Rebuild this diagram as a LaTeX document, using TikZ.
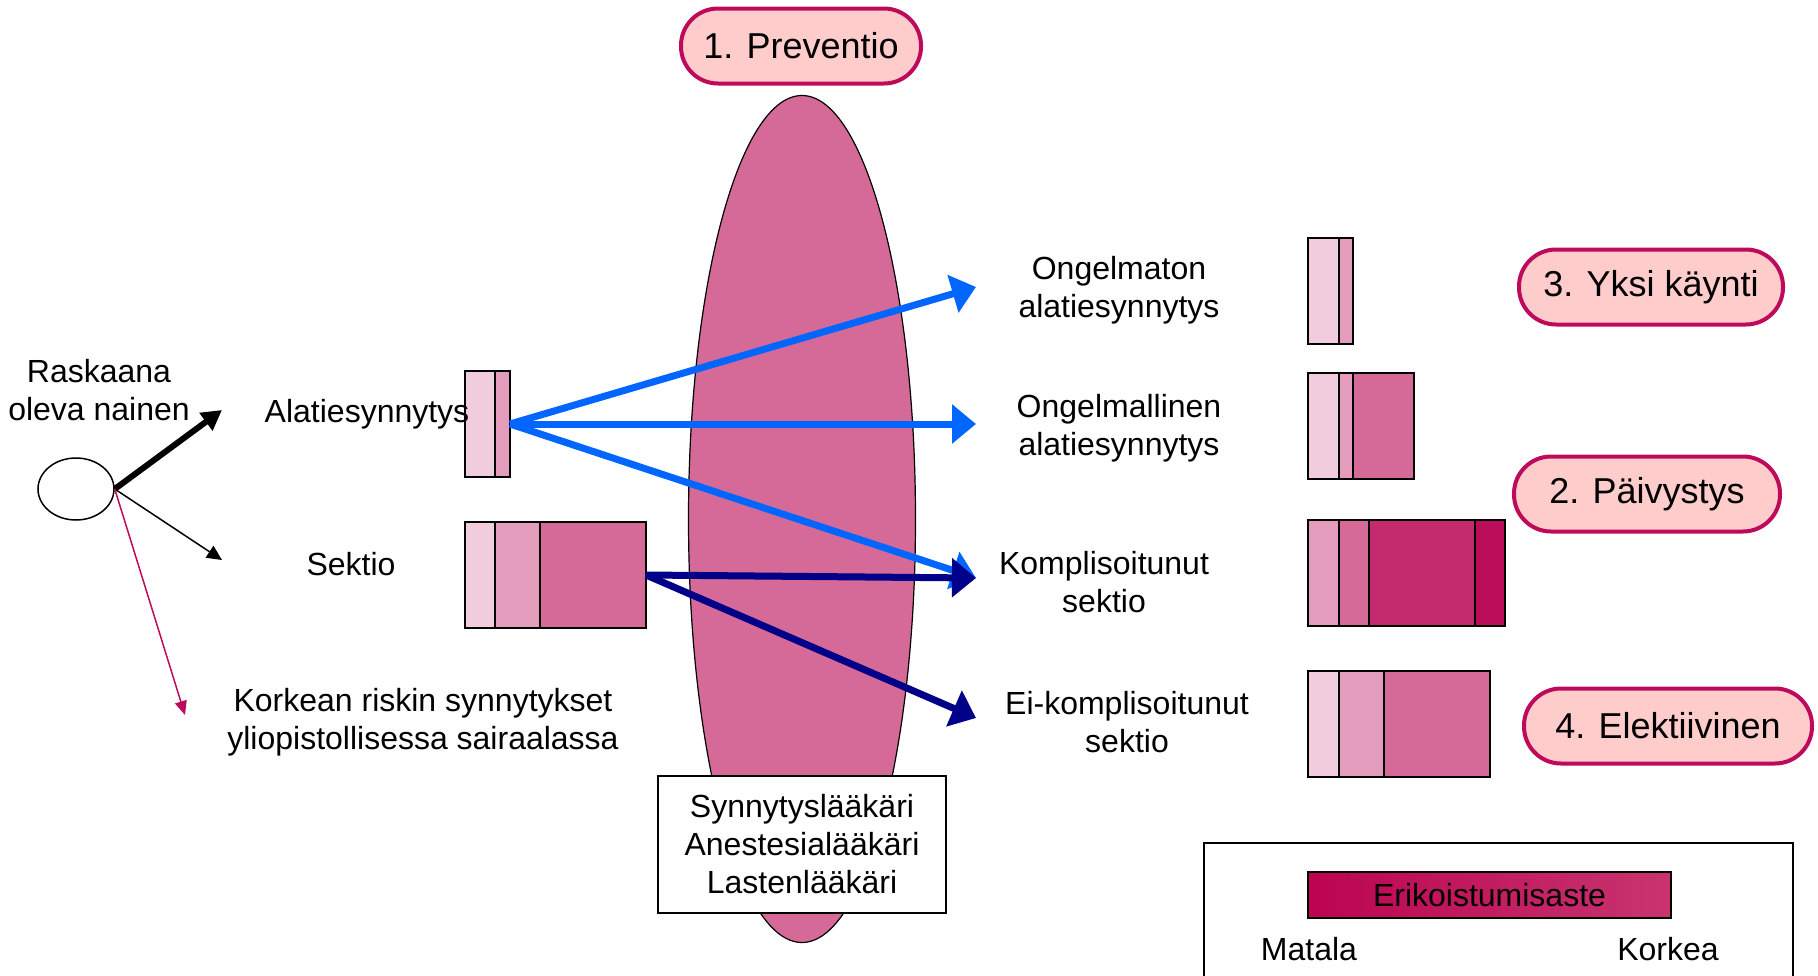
\documentclass[tikz,border=0pt]{standalone}
\usepackage{fontspec}
\setmainfont{Liberation Sans}
\usetikzlibrary{arrows.meta,positioning,shapes.geometric}

\definecolor{lvA}{HTML}{F0CCDC}
\definecolor{lvB}{HTML}{E39CBC}
\definecolor{lvC}{HTML}{D56A98}
\definecolor{lvD}{HTML}{C42B6E}
\definecolor{lvE}{HTML}{BC0D5A}
\definecolor{pillfill}{HTML}{FFCCCC}
\definecolor{pillline}{HTML}{BE0A5A}
\definecolor{arrblue}{HTML}{0066FF}
\definecolor{arrnavy}{HTML}{000088}
\definecolor{legA}{HTML}{BC0450}
\definecolor{legB}{HTML}{C83470}

\begin{document}
\begin{tikzpicture}[x=1pt, y=-1pt,
  seg/.style={draw, line width=1.5pt, inner sep=0pt, outer sep=0pt, minimum height=106pt},
  pill/.style={draw=pillline, fill=pillfill, line width=4pt, rounded corners=37pt,
    minimum height=75pt, font=\fontsize{36}{43}\selectfont},
  txt/.style={align=center, font=\fontsize{32}{38}\selectfont},
  fat/.style={line width=7pt, -{Triangle[length=24pt, width=38pt]}},
  >=Stealth
]
  \useasboundingbox (0,0) rectangle (1818,975);
  \clip (0,0) rectangle (1818,975);

  % the lens in the middle
  \node[ellipse, draw, fill=lvC, line width=1.2pt, minimum width=227pt, minimum height=847pt] (lens) at (802,519) {};

  % the woman and her three ways
  \node[ellipse, draw, line width=1.5pt, minimum width=76pt, minimum height=62pt] (woman) at (76,489) {};
  \coordinate (toAlat) at (222,410);
  \coordinate (toSekt) at (222,560);
  \coordinate (toRisk) at (185,715);
  \draw[line width=6pt, -{Triangle[length=20pt, width=21pt]}] (woman.east) -- (toAlat);
  \draw[line width=1.5pt, -{Triangle[length=15pt, width=14pt]}] (woman.east) -- (toSekt);
  \draw[line width=1.5pt, pillline, -{Triangle[length=14pt, width=12pt]}] (woman.east) -- (toRisk);

  % left bars
  \node[seg, fill=lvA, minimum width=30pt, anchor=north west] (al1) at (465,371) {};
  \node[seg, fill=lvB, minimum width=15pt, right=0pt of al1] (al2) {};
  \node[seg, fill=lvA, minimum width=30pt, anchor=north west] (se1) at (465,522) {};
  \node[seg, fill=lvB, minimum width=45pt, right=0pt of se1] (se2) {};
  \node[seg, fill=lvC, minimum width=106pt, right=0pt of se2] (se3) {};

  % right bars
  \node[seg, fill=lvA, minimum width=31pt, anchor=north west] (r1a) at (1308,238) {};
  \node[seg, fill=lvB, minimum width=14pt, right=0pt of r1a] (r1b) {};
  \node[seg, fill=lvA, minimum width=31pt, anchor=north west] (r2a) at (1308,373) {};
  \node[seg, fill=lvB, minimum width=14pt, right=0pt of r2a] (r2b) {};
  \node[seg, fill=lvC, minimum width=61pt, right=0pt of r2b] (r2c) {};
  \node[seg, fill=lvB, minimum width=31pt, anchor=north west] (r3a) at (1308,520) {};
  \node[seg, fill=lvC, minimum width=30pt, right=0pt of r3a] (r3b) {};
  \node[seg, fill=lvD, minimum width=106pt, right=0pt of r3b] (r3c) {};
  \node[seg, fill=lvE, minimum width=30pt, right=0pt of r3c] (r3d) {};
  \node[seg, fill=lvA, minimum width=31pt, anchor=north west] (r4a) at (1308,671) {};
  \node[seg, fill=lvB, minimum width=45pt, right=0pt of r4a] (r4b) {};
  \node[seg, fill=lvC, minimum width=106pt, right=0pt of r4b] (r4c) {};

  % outcomes
  \coordinate (toOk1) at (976,287);
  \coordinate (toOk2) at (976,424);
  \coordinate (toKs) at (976,578);
  \coordinate (toEks) at (976,718);
  \draw[fat, arrblue] (al2.east) -- (toOk1);
  \draw[fat, arrblue] (al2.east) -- (toOk2);
  \draw[fat, arrblue] (al2.east) -- (toKs);
  \draw[fat, arrnavy] (se3.east) -- (toKs);
  \draw[fat, arrnavy] (se3.east) -- (toEks);

  % texts
  \node[txt] (preg) at (99,390) {Raskaana\\oleva nainen};
  \node[txt] (alat) at (367,414) {Alatiesynnytys};
  \node[txt] (sekt) at (351,564) {Sektio};
  \node[txt] (risk) at (423,722) {Korkean riskin synnytykset\\yliopistollisessa sairaalassa};
  \node[txt] (ok1) at (1119,290) {Ongelmaton\\alatiesynnytys};
  \node[txt] (ok2) at (1119,428) {Ongelmallinen\\alatiesynnytys};
  \node[txt] (ks) at (1104,582) {Komplisoitunut\\sektio};
  \node[txt] (eks) at (1127,722) {Ei-komplisoitunut\\sektio};
  \node[txt, draw, fill=white, line width=1.5pt, minimum width=288pt, minimum height=137pt] (staff) at (802,844.5)
    {Synnytyslääkäri\\Anestesialääkäri\\Lastenlääkäri};

  % phases
  \node[pill, minimum width=240pt] (prev) at (801,46) {1. Preventio};
  \node[pill, minimum width=264pt] (yksi) at (1651,287) {3. Yksi käynti};
  \node[pill, minimum width=266pt] (paiv) at (1647,494) {2. Päivystys};
  \node[pill, minimum width=288pt] (elek) at (1668,726) {4. Elektiivinen};

  % legend
  \node[draw, line width=1.5pt, minimum width=589pt, minimum height=150pt, anchor=north west] (legend) at (1203,842) {};
  \node[txt, draw, line width=1.5pt, left color=legA, right color=legB, minimum width=363pt, minimum height=46pt,
    inner sep=0pt] (scale) at (1489.5,895) {Erikoistumisaste};
  \node[txt] (low) at (1309,949) {Matala};
  \node[txt] (high) at (1668,949) {Korkea};
\end{tikzpicture}
\end{document}
